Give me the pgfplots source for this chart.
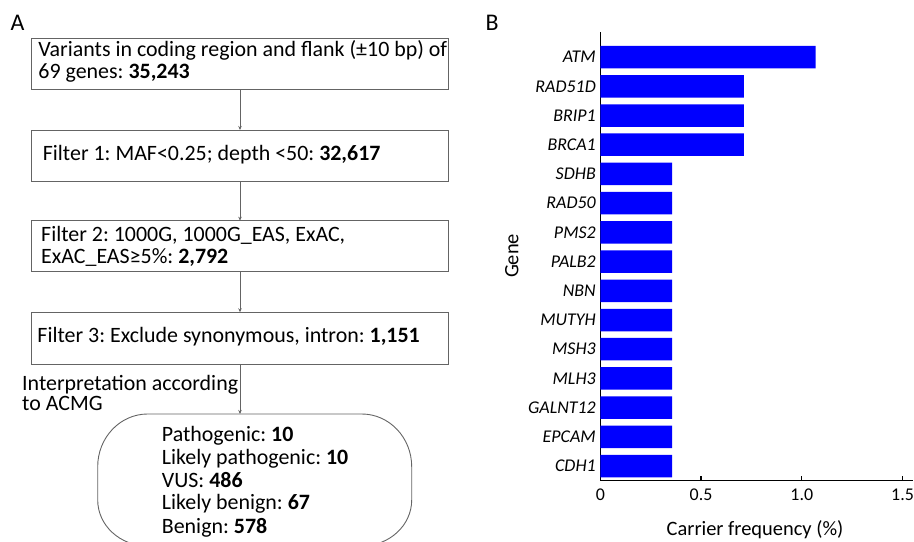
\documentclass[border=0pt]{standalone}
\usepackage{pgfplots}
\pgfplotsset{compat=1.18}
\usepackage{fontspec}
\setmainfont{Carlito}
\usetikzlibrary{arrows.meta}
\definecolor{boxgray}{RGB}{100,100,100}
\definecolor{barblue}{RGB}{0,0,255}
\frenchspacing
\begin{document}
\frenchspacing
\begin{tikzpicture}[x=1bp,y=1bp]
\useasboundingbox (0,0) rectangle (914,542);
\tikzset{bt/.style={anchor=base west,inner sep=0pt,font=\fontsize{22}{24}\selectfont},
  arr/.style={boxgray,line width=0.8bp,-{Stealth[length=4bp,width=3.5bp]}}}
% panel labels
\node[font=\fontsize{24}{26}\selectfont] at (17.5,519.5) {A};
\node[font=\fontsize{24}{26}\selectfont] at (492,519.2) {B};
% boxes
\draw[boxgray,line width=0.9bp] (31,503.7) rectangle (448.3,452.7);
\draw[boxgray,line width=0.9bp] (31,412) rectangle (448.3,360.7);
\draw[boxgray,line width=0.9bp] (31,321.3) rectangle (448.3,270.3);
\draw[boxgray,line width=0.9bp] (31,229.7) rectangle (448.3,178);
\begin{scope}
\clip (0,0) rectangle (914,542);
\draw[boxgray,line width=0.9bp] (147.7,128) -- (361.7,128) arc[start angle=90,end angle=0,x radius=50,y radius=52.7] -- (411.7,42) arc[start angle=0,end angle=-90,x radius=50,y radius=46] -- (147.7,-4) arc[start angle=270,end angle=180,x radius=50,y radius=46] -- (97.7,75.3) arc[start angle=180,end angle=90,x radius=50,y radius=52.7] -- cycle;
\end{scope}
% arrows
\draw[arr] (240,452.7) -- (240,412);
\draw[arr] (240,360.7) -- (240,321.3);
\draw[arr] (240,270.3) -- (240,229.7);
\draw[arr] (240,178) -- (240,128);
% texts
\node[bt] at (38.3,485) {Variants in coding region and flank (±10 bp) of};
\node[bt] at (38.3,463) {69 genes: \textbf{35,243}};
\node[bt] at (42.7,381) {Filter 1: MAF<0.25; depth <50: \textbf{32,617}};
\node[bt] at (41,300.3) {Filter 2: 1000G, 1000G\_EAS, ExAC,};
\node[bt] at (41,278.7) {ExAC\_EAS≥5\%: \textbf{2,792}};
\node[bt] at (37.3,199) {Filter 3: Exclude synonymous, intron: \textbf{1,151}};
\node[bt] at (22,151) {Interpretation according};
\node[bt] at (22,131) {to ACMG};
\node[bt] at (161.7,100.3) {Pathogenic: \textbf{10}};
\node[bt] at (161.7,77.7) {Likely pathogenic: \textbf{10}};
\node[bt] at (161.7,54.3) {VUS: \textbf{486}};
\node[bt] at (161.7,32) {Likely benign: \textbf{67}};
\node[bt] at (161.7,8.7) {Benign: \textbf{578}};
% axis labels of panel B
\node[font=\fontsize{20.5}{22}\selectfont] at (755,12.3) {Carrier frequency (\%)};
\node[font=\fontsize{20.5}{22}\selectfont,rotate=90] at (511.7,286) {Gene};
% bar chart
\begin{axis}[at={(600.3bp,61.3bp)}, anchor=south west,
  scale only axis, width=312.3bp, height=448.7bp,
  xmin=0, xmax=1.55, ymin=-0.5, ymax=14.86,
  axis x line*=bottom, axis y line*=left,
  axis line style={line width=1.2bp,black},
  xbar, bar width=22.5bp,
  xtick={0,0.5,1,1.5}, xticklabels={0,0.5,1.0,1.5},
  ytick={0,...,14},
  yticklabels={CDH1,EPCAM,GALNT12,MLH3,MSH3,MUTYH,NBN,PALB2,PMS2,RAD50,SDHB,BRCA1,BRIP1,RAD51D,ATM},
  yticklabel style={font=\fontsize{18}{20}\selectfont\itshape, xshift=4bp},
  xticklabel style={font=\fontsize{18}{20}\selectfont, yshift=-5bp},
  /pgf/number format/assume math mode=true,
  y tick style={draw=none},
  xtick align=inside, x tick style={line width=1.2bp,black}, major tick length=5bp,
]
\addplot[fill=barblue, draw=none] coordinates {
(0.356,0) (0.356,1) (0.356,2) (0.356,3) (0.356,4) (0.356,5) (0.356,6) (0.356,7) (0.356,8) (0.356,9) (0.356,10) (0.712,11) (0.712,12) (0.712,13) (1.068,14)};
\end{axis}
\end{tikzpicture}
\end{document}
